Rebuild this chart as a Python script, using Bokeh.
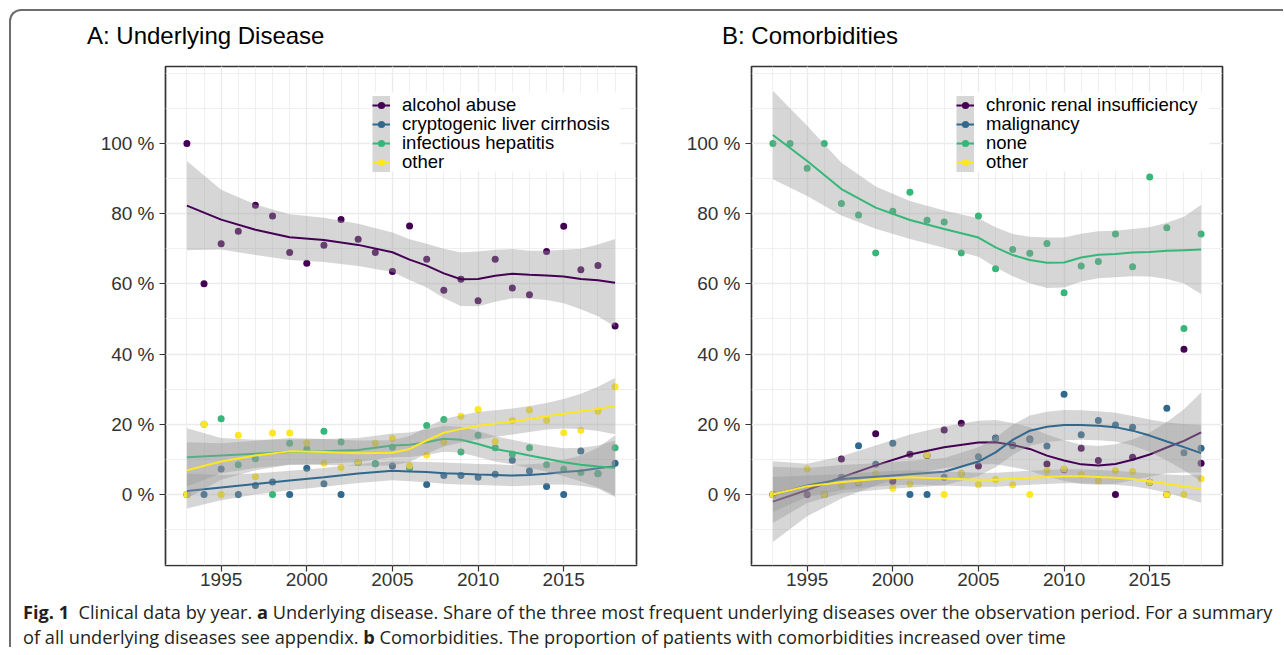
import math
from bokeh.plotting import figure
from bokeh.models import FixedTicker, Legend, LegendItem, Div, Range1d, BoxAnnotation
from bokeh.layouts import row, column
from bokeh.embed import file_html
from bokeh.resources import INLINE

NaN = float("nan")
YEARS = list(range(1993, 2019))
COLORS = ["#440154", "#31688E", "#35B779", "#FDE725"]
FONT = "Liberation Sans"

# ---------------- Panel A: underlying disease (share in %) ----------------
A_TITLE = "A: Underlying Disease"
A_LABELS = ["alcohol abuse", "cryptogenic liver cirrhosis", "infectious hepatitis", "other"]
A_ALCOHOL = [100, 60.0, 71.4, 75.0, 82.4, 79.3, 68.9, 65.9, 71.0, 78.3, 72.7, 68.9, 63.5,
             76.5, 67.0, 58.2, 61.3, 55.2, 67.0, 58.8, 56.9, 69.2, 76.4, 64.0, 65.2, 48.0]
A_CRYPTO = [0, 0, 7.3, 0, 2.6, 3.6, 0, 7.5, 3.1, 0, 9.1, 8.8, 8.1,
            7.7, 2.9, 5.4, 5.4, 4.9, 5.8, 9.8, 6.7, 2.3, 0, 12.4, 6.0, 8.9]
A_INFECT = [0, 20.0, 21.6, 8.5, 10.2, 0, 14.6, 13.0, 18.0, 15.0, 9.1, 8.8, 13.5,
            7.7, 19.7, 21.4, 12.1, 16.9, 13.3, 11.5, 13.3, 8.5, 7.2, 6.3, 5.9, 13.3]
A_OTHER = [0, 20.0, 0, 16.9, 5.1, 17.5, 17.5, 14.7, 8.9, 7.7, 9.2, 14.6, 16.0,
           8.3, 11.3, 15.0, 22.3, 24.2, 15.1, 21.1, 24.1, 21.1, 17.6, 18.3, 23.7, 30.7]

# smoothed trends and half widths of their bands
FIT_YEARS = [1993, 1995, 1997, 1999, 2001, 2003, 2005, 2006, 2007, 2008,
             2009, 2010, 2011, 2012, 2013, 2014, 2015, 2016, 2017, 2018]
A_ALCOHOL_FIT = [82.3, 78.3, 75.4, 73.3, 72.5, 71.1, 69.0, 66.9, 65.2, 63.0,
                 61.3, 61.4, 62.3, 62.9, 62.6, 62.4, 62.1, 61.4, 61.0, 60.3]
A_ALCOHOL_HW = [12.7, 8.5, 7.2, 6.5, 6.3, 6.0, 5.6, 5.8, 6.2, 7.0,
                7.6, 7.8, 7.4, 7.0, 6.8, 7.0, 7.6, 8.6, 10.2, 12.5]
A_CRYPTO_FIT = [1.0, 2.0, 3.0, 4.0, 4.9, 6.0, 6.8, 6.6, 6.4, 6.1,
                5.9, 5.7, 5.6, 5.4, 5.6, 5.9, 6.4, 6.8, 7.5, 8.1]
A_CRYPTO_HW = [5.0, 3.6, 3.0, 2.8, 2.7, 2.7, 2.7, 2.8, 2.9, 3.0,
               3.0, 3.0, 3.0, 3.0, 3.0, 3.1, 3.5, 4.3, 5.8, 8.8]
A_INFECT_FIT = [10.6, 11.1, 11.6, 12.1, 12.3, 12.7, 14.0, 14.2, 14.9, 15.9,
                15.6, 14.4, 13.0, 12.1, 11.1, 10.2, 9.2, 8.5, 8.0, 7.6]
A_INFECT_HW = [8.3, 5.0, 4.0, 3.6, 3.5, 3.4, 3.4, 3.5, 3.6, 3.7,
               3.7, 3.7, 3.6, 3.5, 3.5, 3.6, 4.0, 4.8, 6.0, 7.8]
A_OTHER_FIT = [6.9, 9.4, 11.1, 12.3, 12.1, 11.8, 11.9, 13.0, 15.4, 17.6,
               18.7, 19.6, 20.2, 20.8, 21.5, 22.3, 23.0, 23.7, 24.4, 25.2]
A_OTHER_HW = [8.0, 5.2, 4.2, 3.8, 3.7, 3.6, 3.6, 3.7, 3.8, 3.9,
              3.9, 3.9, 3.8, 3.7, 3.7, 3.8, 4.2, 5.0, 6.3, 8.0]

# ---------------- Panel B: comorbidities (share in %) ----------------
B_TITLE = "B: Comorbidities"
B_LABELS = ["chronic renal insufficiency", "malignancy", "none", "other"]
B_CRF = [0, NaN, 0, 0, 10.1, 3.4, 17.3, 3.8, 11.5, 11.1, 18.4, 20.3, 8.1,
         16.1, 14.1, 15.8, 8.7, 7.1, 13.2, 9.7, 0, 10.6, 3.5, 0, 41.4, 8.9]
B_MALIG = [0, NaN, NaN, 0, 4.9, 13.9, 8.6, 14.6, 0, 0, 4.9, 5.9, 10.8,
           16.0, 13.9, 15.6, 13.8, 28.6, 17.0, 21.1, 19.8, 19.2, 3.5, 24.6, 11.9, 13.2]
B_NONE = [100, 100, 92.9, 100, 82.9, 79.6, 68.8, 80.7, 86.1, 78.1, 77.6, 68.8, 79.3,
          64.3, 69.8, 68.7, 71.5, 57.5, 65.1, 66.4, 74.2, 64.9, 90.4, 76.0, 47.3, 74.2]
B_OTHER = [0, NaN, 7.3, 0, 2.6, 3.5, 6.0, 1.8, 3.0, 11.3, 0, 5.9, 2.8,
           4.3, 2.8, 0, 6.8, 7.3, 5.7, 3.9, 6.8, 6.6, 3.5, 0, 0, 4.5]

B_CRF_FIT = [-2.0, 1.3, 4.9, 8.3, 11.4, 13.5, 14.8, 14.9, 14.1, 13.0,
             11.1, 9.7, 8.6, 8.3, 8.7, 9.9, 11.4, 13.4, 15.3, 17.7]
B_CRF_HW = [11.5, 7.5, 6.0, 5.7, 5.7, 5.9, 6.2, 6.3, 6.3, 6.2,
            6.0, 5.8, 5.6, 5.5, 5.6, 5.8, 6.3, 7.3, 9.0, 11.4]
B_MALIG_FIT = [-0.1, 2.6, 4.4, 5.1, 5.8, 6.5, 9.4, 12.0, 15.6, 18.2,
               19.3, 19.8, 19.8, 19.6, 19.2, 18.2, 16.8, 15.1, 13.5, 11.8]
B_MALIG_HW = [8.0, 5.0, 4.0, 3.8, 3.8, 3.9, 4.1, 4.2, 4.3, 4.3,
              4.3, 4.3, 4.2, 4.1, 4.1, 4.2, 4.6, 5.4, 6.6, 8.0]
B_NONE_FIT = [102.4, 95.0, 87.0, 81.7, 78.2, 75.6, 73.2, 70.4, 68.2, 66.8,
              66.0, 66.1, 67.5, 68.3, 68.5, 68.9, 69.1, 69.4, 69.6, 69.8]
B_NONE_HW = [12.6, 10.0, 7.5, 6.0, 5.4, 5.3, 5.5, 5.7, 6.0, 6.6,
             7.2, 7.1, 6.8, 6.7, 6.6, 6.7, 7.0, 8.0, 9.5, 12.7]
B_OTHER_FIT = [0.0, 2.4, 3.5, 4.4, 4.9, 4.6, 4.2, 4.2, 4.5, 4.8,
               5.0, 5.2, 5.2, 5.0, 4.8, 4.4, 3.8, 3.1, 2.3, 1.7]
B_OTHER_HW = [5.0, 3.0, 2.3, 2.1, 2.0, 2.0, 2.0, 2.0, 2.0, 2.0,
              2.0, 2.0, 2.0, 2.0, 2.0, 2.0, 2.2, 2.6, 3.2, 4.0]

X_TICKS = [1995, 2000, 2005, 2010, 2015]
Y_TICKS = [0, 20, 40, 60, 80, 100]
Y_MINOR = [-20, -10, 10, 30, 50, 70, 90, 110, 120]
X0, X1 = 1991.75, 2019.25
Y0, Y1 = -20.2, 121.9
FW, FH = 471, 499


def panel(labels, series, fits, hws, min_left, min_right, legend_x, legend_w):
    p = figure(frame_width=FW, frame_height=FH, output_backend="svg",
               toolbar_location=None, x_range=Range1d(X0, X1), y_range=Range1d(Y0, Y1),
               min_border_left=min_left, min_border_right=min_right,
               min_border_top=10, min_border_bottom=34,
               background_fill_color="white", border_fill_color="white")
    p.outline_line_color = "#333333"
    p.outline_line_width = 1.7

    p.xaxis.ticker = FixedTicker(ticks=X_TICKS, minor_ticks=YEARS)
    p.yaxis.ticker = FixedTicker(ticks=Y_TICKS, minor_ticks=Y_MINOR)
    p.yaxis.major_label_overrides = {t: f"{t} %" for t in Y_TICKS}
    for ax in (p.xaxis, p.yaxis):
        ax.axis_line_color = None
        ax.major_tick_line_color = "#333333"
        ax.major_tick_line_width = 1.2
        ax.major_tick_out = 6
        ax.major_tick_in = 0
        ax.minor_tick_line_color = None
        ax.major_label_text_font = FONT
        ax.major_label_text_font_size = "19px"
        ax.major_label_text_color = "#333333"
    p.xaxis.major_label_standoff = 1
    p.yaxis.major_label_standoff = 5
    for g in (p.xgrid, p.ygrid):
        g.grid_line_color = "#EBEBEB"
        g.grid_line_width = 1.4
        g.minor_grid_line_color = "#EBEBEB"
        g.minor_grid_line_width = 0.8

    pts = []
    for vals, c in zip(series, COLORS):
        pts.append(p.scatter(YEARS, vals, size=7, fill_color=c, line_color=None))

    lines = []
    for fit, hw, c in zip(fits, hws, COLORS):
        lo = [f - h for f, h in zip(fit, hw)]
        hi = [f + h for f, h in zip(fit, hw)]
        p.varea(x=FIT_YEARS, y1=lo, y2=hi, fill_color="#999999", fill_alpha=0.4)
        lines.append(p.line(FIT_YEARS, fit, line_color=c, line_width=2))

    # white legend box (pixel extents converted through the frame scale)
    sx = (X1 - X0) / FW
    sy = (Y1 - Y0) / FH
    box_left_px, box_top_px, box_h_px = legend_x - 2, 26, 79
    p.add_layout(BoxAnnotation(left=X0 + box_left_px * sx,
                               right=X0 + (box_left_px + legend_w) * sx,
                               top=Y1 - box_top_px * sy,
                               bottom=Y1 - (box_top_px + box_h_px) * sy,
                               fill_color="white", fill_alpha=1.0, line_color=None))

    # one legend per entry, stacked 19 px apart
    for i, (lab, ln, pt) in enumerate(zip(labels, lines, pts)):
        key = p.line(x=[NaN], y=[NaN], line_color="#D6D6D6", line_width=19, line_cap="butt")
        leg = Legend(items=[LegendItem(label=lab, renderers=[key, ln, pt])],
                     location=(legend_x, FH - 27.5 - 22 - 19 * i), padding=0, spacing=0,
                     glyph_width=18, glyph_height=22, label_height=22, label_standoff=12,
                     label_text_font=FONT, label_text_font_size="18.5px",
                     label_text_color="black", background_fill_alpha=0.0,
                     border_line_color=None, margin=0)
        p.add_layout(leg)
    return p


pA = panel(A_LABELS, [A_ALCOHOL, A_CRYPTO, A_INFECT, A_OTHER],
           [A_ALCOHOL_FIT, A_CRYPTO_FIT, A_INFECT_FIT, A_OTHER_FIT],
           [A_ALCOHOL_HW, A_CRYPTO_HW, A_INFECT_HW, A_OTHER_HW], 154, 47, 207, 250)
pB = panel(B_LABELS, [B_CRF, B_MALIG, B_NONE, B_OTHER],
           [B_CRF_FIT, B_MALIG_FIT, B_NONE_FIT, B_OTHER_FIT],
           [B_CRF_HW, B_MALIG_HW, B_NONE_HW, B_OTHER_HW], 64, 30, 205, 255)

title_style = {"font-family": FONT, "font-size": "24px", "line-height": "50px",
               "color": "black", "white-space": "nowrap"}
tA = Div(text=A_TITLE, width=672, height=45, margin=0,
         styles=dict(title_style, **{"padding-left": "76px"}))
tB = Div(text=B_TITLE, width=565, height=45, margin=0,
         styles=dict(title_style, **{"padding-left": "39px"}))

CAPTION = ('<b>Fig. 1</b>&nbsp;&nbsp;Clinical data by year. <b>a</b> Underlying disease. '
           'Share of the three most frequent underlying diseases over the observation period. '
           'For a summary<br>of all underlying diseases see appendix. <b>b</b> Comorbidities. '
           'The proportion of patients with comorbidities increased over time')
cap = Div(text=CAPTION, width=1262, height=42,
          styles={"font-family": "Open Sans", "font-size": "18.2px", "line-height": "25px",
                  "color": "#231F20", "padding-left": "7px", "white-space": "nowrap",
                  "margin-top": "1px"})

layout = column(row(tA, tB), row(pA, pB), cap,
                styles={"border-left": "2px solid #6E6E6E", "border-top": "2px solid #6E6E6E",
                        "border-top-left-radius": "12px", "margin-left": "9px",
                        "margin-top": "9px"})

open("out.html", "w").write(file_html(layout, INLINE))
